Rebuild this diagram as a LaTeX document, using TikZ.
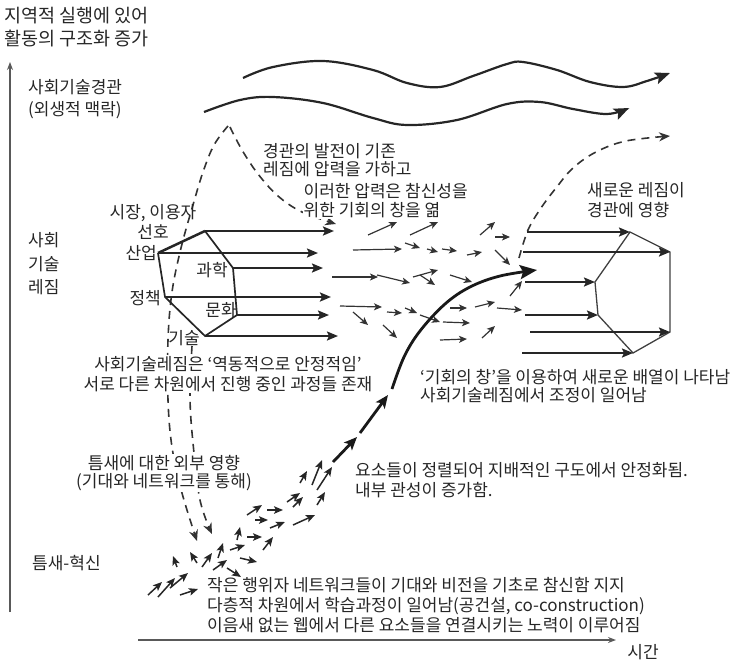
\documentclass[tikz,border=0pt]{standalone}
\usepackage{fontspec}
\setmainfont{Noto Sans CJK KR}
\usetikzlibrary{arrows.meta}
\begin{document}
\begin{tikzpicture}[x=1pt,y=-1pt,
  txt/.style={font=\fontsize{17}{20}\selectfont, inner sep=0pt, text=black!85},
  axis/.style={line width=1.6pt, draw=black!65, -{Stealth[length=8pt,width=6pt]}},
  wave/.style={line width=2.2pt, draw=black!85, -{Stealth[length=15pt,width=12pt,inset=3pt]}},
  dsh/.style={line width=1.6pt, draw=black!80, dash pattern=on 8pt off 6pt},
  dsharr/.style={dsh, -{Stealth[length=11pt,width=9pt]}},
  hexo/.style={line width=1.7pt, draw=black!85, line join=miter},
  hexn/.style={line width=1.3pt, draw=black!75},
  ra/.style={line width=2pt, draw=black!85, -{Stealth[length=11pt,width=9pt,inset=2pt]}},
  rathick/.style={ra, line width=2.8pt},
  sa/.style={line width=1.2pt, draw=black!80, -{Stealth[length=8pt,width=7pt,inset=2pt]}},
  na/.style={line width=1.5pt, draw=black!85, -{Stealth[length=9pt,width=7.5pt,inset=2pt]}},
  big/.style={line width=2.8pt, draw=black!90, -{Stealth[length=13pt,width=11pt,inset=3pt]}},
]
\useasboundingbox (0,0) rectangle (734,664);

% axes
\coordinate (yb) at (10,612);
\coordinate (yt) at (10,62);
\coordinate (xl) at (138,640);
\coordinate (xr) at (616,640);
\draw[axis] (yb) -- (yt);
\draw[axis] (xl) -- (xr);

% landscape waves
\draw[wave] plot[smooth, tension=0.6] coordinates {(243,78) (273,67) (323,61) (373,70) (407,83) (440,87) (473,76) (507,64) (523,62) (557,70) (590,82) (623,87) (647,81) (670,73)};
\draw[wave] plot[smooth, tension=0.6] coordinates {(204,112) (240,100) (273,97) (323,103) (373,118) (407,125) (457,120) (507,104) (540,102) (573,109) (607,114) (629,108)};

% dashed influences from landscape
\coordinate (peak) at (228,126);
\draw[dsharr] plot[smooth, tension=0.6] coordinates {(peak) (214,145) (203,172) (193,205) (181,248) (172,292) (168,340) (168,400) (172,447) (182,493) (197,541)};
\draw[dsharr] plot[smooth, tension=0.6] coordinates {(192,346) (190,397) (193,443) (200,500) (212,534)};
\draw[dsharr] plot[smooth, tension=0.6] coordinates {(230,127) (242,150) (258,174) (278,196) (302,212) (336,224)};
% new regime to landscape
\draw[dsharr] plot[smooth, tension=0.6] coordinates {(519,258) (528,230) (541,208) (556,188) (573,168) (596,152) (626,141) (670,136)};

% old regime hexagon
\coordinate (oA) at (205,231);
\coordinate (oB) at (158,253);
\coordinate (oF) at (233,268);
\coordinate (oE) at (237,315);
\coordinate (oD) at (205,336);
\coordinate (oC) at (165,297);
\draw[hexo] (oA) -- (oF) -- (oE) -- (oD) -- (oC) -- (oB);
\draw[hexo, line width=2.5pt] (oB) -- (oA);
\draw[rathick] (oA) -- (334,231);
\draw[ra] (oB) -- (318,253);
\draw[ra] (oF) -- (323,268);
\draw[rathick] (oC) -- (331,297);
\draw[ra] (oE) -- (329,315);
\draw[ra] (oD) -- (338,336);

% new regime hexagon
\coordinate (nA) at (630,232);
\coordinate (nB) at (670,252);
\coordinate (nC) at (670,332);
\coordinate (nD) at (633,353);
\coordinate (nE) at (598,315);
\coordinate (nF) at (595,282);
\draw[hexn] (nA) -- (nB) -- (nC) -- (nD) -- (nE) -- (nF) -- cycle;
\draw[ra] (527,232) -- (nA);
\draw[ra] (523,252) -- (nB);
\draw[ra] (525,282) -- (nF);
\draw[ra] (525,315) -- (nE);
\draw[ra] (530,332) -- (nC);
\draw[ra] (522,353) -- (nD);

% field of small arrows between regimes
\foreach \a/\b/\c/\d in {368/235/397/222, 410/235/438/222, 353/250/402/249, 405/243/420/248, 427/249/438/252, 442/249/457/251, 467/255/482/252, 480/235/495/222, 495/237/510/237, 495/250/510/265, 332/277/378/277, 377/275/410/283, 413/277/438/270, 420/275/435/285, 450/275/472/282, 510/296/522/281, 340/306/382/307, 353/312/368/325, 387/312/402/313, 405/308/417/313, 420/315/440/322, 383/325/397/338, 450/308/467/308, 475/307/495/302, 497/308/522/310, 443/322/470/323, 440/340/467/339, 482/338/495/326}
  \draw[sa] (\a,\b) -- (\c,\d);

% niche cluster of small arrows
\foreach \a/\b/\c/\d in {148/595/162/582, 158/597/175/578, 170/588/188/573, 180/595/198/589, 177/567/173/556, 197/563/190/552, 202/567/212/553, 213/570/227/560, 218/558/223/543, 227/568/241/577, 230/550/245/545, 240/558/257/562, 237/540/240/527, 247/537/262/537, 263/550/273/537, 247/515/262/505, 255/520/268/520, 267/510/283/510, 270/528/285/522, 287/502/300/493, 293/525/315/515, 293/507/303/497, 300/483/307/471, 312/485/322/460, 317/490/332/467, 317/505/325/492}
  \draw[na] (\a,\b) -- (\c,\d);

% main niche trajectory
\draw[big] (333,462) -- (357,437);
\draw[big] (360,433) -- (388,395);
\draw[big, -{Stealth[length=17pt,width=14pt,inset=3pt]}] plot[smooth, tension=0.6] coordinates {(392,389) (404,357) (420,331) (445,304) (470,287) (500,276) (537,270)};

% texts
\node[txt, anchor=west, align=left, font=\fontsize{18.5}{23}\selectfont] (title) at (4,27) {지역적 실행에 있어\\활동의 구조화 증가};
\node[txt, anchor=west, align=left, font=\fontsize{17}{22}\selectfont] (land) at (28,99) {사회기술경관\\(외생적 맥락)};
\node[txt, anchor=west, align=left, font=\fontsize{17}{23.5}\selectfont] (reg) at (28,264) {사회\\기술\\레짐};
\node[txt, align=center] (market) at (153,222) {시장, 이용자\\선호};
\node[txt, anchor=east] (ind) at (157,253) {산업};
\node[txt, anchor=east] (pol) at (161,298) {정책};
\node[txt] (sci) at (212,270) {과학};
\node[txt] (cul) at (221,310) {문화};
\node[txt] (tec) at (184,338) {기술};
\node[txt, align=center, fill=white, inner sep=1pt] (dyn) at (228,374) {사회기술레짐은 ‘역동적으로 안정적임’\\서로 다른 차원에서 진행 중인 과정들 존재};
\node[txt, anchor=west, align=left, font=\fontsize{17}{18}\selectfont] (press) at (263,160) {경관의 발전이 기존\\레짐에 압력을 가하고};
\node[txt, anchor=west, align=left, font=\fontsize{17}{19}\selectfont, fill=white, inner sep=0.5pt] (win) at (303,201) {이러한 압력은 참신성을\\위한 기회의 창을 엶};
\node[txt, anchor=west, align=left] (newreg) at (587,200) {새로운 레짐이\\경관에 영향};
\node[txt, anchor=west, align=left, font=\fontsize{17}{18}\selectfont] (adj) at (420,386) {‘기회의 창’을 이용하여 새로운 배열이 나타남\\사회기술레짐에서 조정이 일어남};
\node[txt, anchor=west, align=left] (align) at (355,480) {요소들이 정렬되어 지배적인 구도에서 안정화됨.\\내부 관성이 증가함.};
\node[txt, align=center, font=\fontsize{17}{18}\selectfont, fill=white, inner sep=1pt] (ext) at (164,473) {틈새에 대한 외부 영향\\(기대와 네트워크를 통해)};
\node[txt, anchor=west] (niche) at (32,563) {틈새-혁신};
\node[txt, anchor=west, align=left] (small) at (207,605) {작은 행위자 네트워크들이 기대와 비전을 기초로 참신함 지지\\다층적 차원에서 학습과정이 일어남(공건설, co-construction)\\이음새 없는 웹에서 다른 요소들을 연결시키는 노력이 이루어짐};
\node[txt] (time) at (643,652) {시간};
\end{tikzpicture}
\end{document}
